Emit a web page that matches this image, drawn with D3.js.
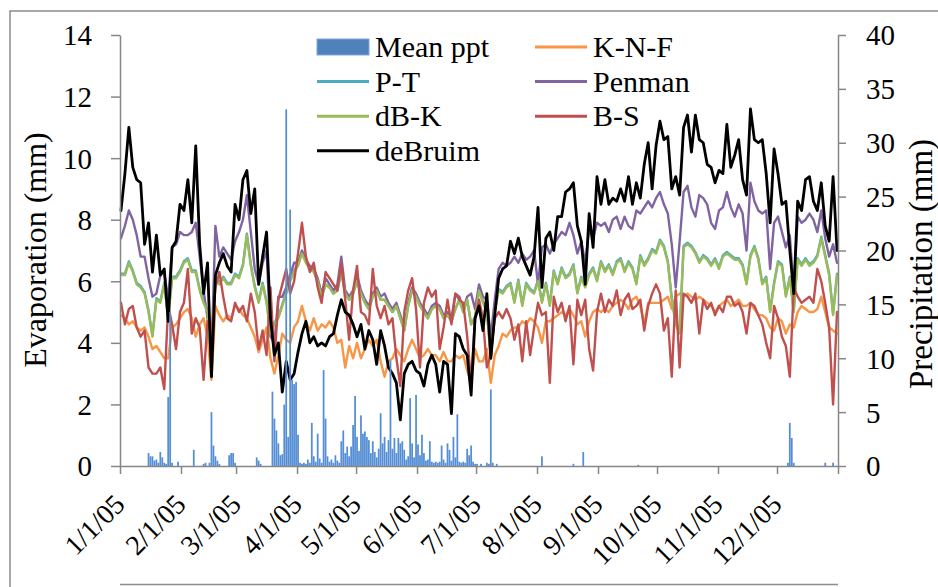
<!DOCTYPE html>
<html><head><meta charset="utf-8">
<script src="https://cdn.jsdelivr.net/npm/d3@7"></script>
<style>
html,body{margin:0;padding:0;background:#fff;}
svg{display:block;}
</style></head><body>
<svg id="chart" width="938" height="587"></svg>
<script>
// ---------- DATA ----------
const monthLabels = ["1/1/05","2/1/05","3/1/05","4/1/05","5/1/05","6/1/05","7/1/05","8/1/05","9/1/05","10/1/05","11/1/05","12/1/05"];
const evapTicks = [0,2,4,6,8,10,12,14];
const precipTicks = [0,5,10,15,20,25,30,35,40];
const seriesNames = ["K-N-F","P-T","Penman","dB-K","B-S","deBruim"];

// values every second day of 2005 (day 0, 2, 4 ... 364)
const knf = [
4.9,4.8,4.6,4.7,4.5,4.4,4.5,4.2,3.8,3.9,
3.7,3.5,3.5,4.5,4.6,4.8,5.0,5.1,4.8,4.2,
4.6,4.8,4.2,2.8,5.2,4.9,4.7,4.9,4.8,5.2,
5.1,4.9,4.8,4.5,4.2,3.7,4.1,4.5,3.5,3.0,
3.6,4.3,4.1,4.0,4.5,4.7,5.2,4.7,4.4,4.8,
4.4,4.6,4.5,4.7,4.5,4.0,4.1,3.2,3.9,3.5,
4.0,3.5,3.8,4.1,3.9,4.1,3.4,2.9,3.4,3.5,
3.8,3.6,3.4,3.8,4.1,3.8,3.5,3.6,3.8,3.6,
3.6,3.4,3.7,3.4,3.4,3.6,3.5,3.6,3.1,2.7,
3.8,3.4,3.4,3.8,2.7,3.6,3.9,4.3,4.2,4.4,
4.5,4.5,4.7,4.6,4.8,4.7,4.5,4.0,4.7,4.7,
4.8,4.9,5.0,4.9,5.1,4.9,4.6,4.7,4.2,4.7,
5.0,5.1,5.0,5.1,5.0,5.2,5.3,5.4,5.3,5.1,
5.4,5.5,5.2,4.6,5.3,5.3,5.3,5.3,5.4,5.5,
5.1,5.5,5.6,5.5,5.6,5.5,5.4,5.5,5.4,5.3,
5.2,5.0,5.2,5.3,5.4,5.2,5.3,5.4,5.2,5.2,
5.3,5.1,4.9,4.9,4.8,4.5,4.4,4.8,4.7,4.3,
4.6,4.5,5.0,5.2,5.1,5.0,5.0,5.1,5.5,5.0,
4.5,4.4,4.3];
const pt = [
6.25,6.25,6.65,6.35,5.95,5.85,5.65,5.05,4.25,5.45,
5.35,5.95,4.85,6.15,6.15,6.35,6.65,6.75,6.35,6.35,
5.75,5.35,5.05,3.45,6.15,5.95,6.15,5.95,5.95,6.25,
6.15,6.55,7.55,6.55,5.85,5.35,5.95,5.35,4.35,4.65,
4.85,5.25,5.65,6.05,6.35,6.55,6.95,6.65,6.45,6.35,
6.0,5.5,5.9,5.8,5.6,5.7,6.3,5.6,5.4,5.6,
6.0,5.6,5.3,5.1,5.5,5.7,5.4,5.4,5.2,5.0,
5.2,4.8,4.4,5.2,5.7,5.5,5.2,5.0,4.8,5.1,
5.2,5.1,4.8,4.9,4.7,5.1,5.4,5.0,5.4,4.6,
4.85,5.75,5.35,5.05,3.55,5.05,5.75,5.65,5.85,5.95,
5.35,6.05,5.25,5.95,5.75,5.65,6.05,5.35,5.95,5.25,
6.35,5.95,6.45,6.15,6.25,6.55,5.65,6.15,5.85,6.25,
6.45,6.05,6.65,6.35,6.55,6.25,6.65,6.75,6.35,6.65,
6.45,5.95,6.85,6.55,6.75,7.05,6.95,7.35,7.15,6.65,
5.45,4.65,4.35,7.15,7.25,7.15,6.95,6.65,6.85,6.75,
6.55,6.75,6.45,6.85,6.95,6.85,6.75,6.75,6.55,5.95,
6.85,7.15,6.75,5.95,6.15,5.05,5.95,6.65,6.55,5.55,
6.15,5.05,6.75,6.55,6.75,6.55,6.65,6.85,7.45,6.85,
6.25,4.95,6.25];
const penman = [
7.4,7.8,8.3,8.0,7.5,6.8,6.8,6.1,5.5,5.6,
6.2,6.3,5.4,7.1,7.2,7.6,7.5,7.5,7.6,7.9,
6.8,5.7,4.8,3.6,7.8,6.8,7.1,6.9,6.7,7.3,
7.6,8.0,8.8,7.6,6.4,5.9,6.6,7.0,4.2,4.0,
5.5,5.5,5.8,6.2,6.6,6.6,7.0,6.7,6.5,6.4,
6.1,5.6,6.1,5.9,5.7,5.9,6.8,5.7,5.5,5.7,
6.2,5.7,5.4,5.2,5.6,5.8,5.5,5.6,5.3,5.1,
5.3,4.9,4.5,5.3,5.8,5.6,5.3,5.1,4.9,5.2,
5.3,5.2,4.9,5.0,4.8,5.6,5.5,5.1,5.5,5.6,
5.1,5.9,5.5,5.4,4.2,5.4,6.4,6.6,6.5,6.6,
6.8,6.6,6.9,6.7,6.8,7.0,5.9,7.1,7.2,6.9,
7.2,7.4,7.6,7.5,7.9,7.5,6.9,7.3,6.6,7.7,
7.4,7.9,7.8,7.9,7.6,8.0,8.1,7.7,8.1,7.8,
7.7,8.3,8.2,8.4,8.6,8.4,8.7,8.9,8.5,8.2,
7.2,5.8,7.3,8.9,9.1,8.4,8.1,8.8,8.7,8.5,
7.9,7.7,8.3,8.4,8.9,8.4,8.1,8.5,8.2,7.0,
9.2,8.6,8.3,8.2,8.3,6.4,7.9,8.1,7.6,7.1,
7.5,5.7,8.1,7.9,8.0,8.2,8.0,7.6,8.3,7.4,
6.8,7.2,6.6];
const dbk = [
6.2,6.2,6.6,6.3,5.9,5.8,5.6,5.0,4.2,5.4,
5.3,5.9,4.8,6.1,6.1,6.3,6.6,6.7,6.3,6.3,
5.7,5.3,5.0,3.4,6.1,5.9,6.1,5.9,5.9,6.2,
6.1,6.5,7.5,6.5,5.8,5.3,5.9,5.3,4.3,4.6,
4.8,5.2,5.6,6.0,6.3,6.5,6.9,6.6,6.4,6.3,
6.0,5.5,5.9,5.8,5.6,5.7,6.3,5.6,5.4,5.6,
6.0,5.6,5.3,5.1,5.5,5.7,5.4,5.4,5.2,5.0,
5.2,4.8,4.4,5.2,5.7,5.5,5.2,5.0,4.8,5.1,
5.2,5.1,4.8,4.9,4.7,5.1,5.4,5.0,5.4,4.6,
4.8,5.7,5.3,5.0,3.5,5.0,5.7,5.6,5.8,5.9,
5.3,6.0,5.2,5.9,5.7,5.6,6.0,5.3,5.9,5.2,
6.3,5.9,6.4,6.1,6.2,6.5,5.6,6.1,5.8,6.2,
6.4,6.0,6.6,6.3,6.5,6.2,6.6,6.7,6.3,6.6,
6.4,5.9,6.8,6.5,6.7,7.0,6.9,7.3,7.1,6.6,
5.4,4.6,4.3,7.1,7.2,7.1,6.9,6.6,6.8,6.7,
6.5,6.7,6.4,6.8,6.9,6.8,6.7,6.7,6.5,5.9,
6.8,7.1,6.7,5.9,6.1,5.0,5.9,6.6,6.5,5.5,
6.1,5.0,6.7,6.5,6.7,6.5,6.6,6.8,7.4,6.8,
6.2,4.9,6.2];
const bs = [
5.3,4.6,5.1,5.2,4.5,4.2,4.4,3.2,3.0,3.0,
3.2,2.5,5.2,4.6,3.8,5.0,5.3,6.4,4.3,4.8,
4.5,2.8,4.7,4.2,5.8,6.3,5.5,4.8,4.7,5.3,
5.0,5.2,4.7,5.6,5.0,3.8,4.4,3.6,5.8,3.4,
5.4,5.9,6.4,5.6,6.0,6.9,7.9,6.8,6.3,6.6,
5.8,5.3,6.3,6.1,5.9,5.7,6.6,5.4,4.1,5.7,
6.5,5.0,4.9,4.6,6.4,5.2,4.8,5.2,4.6,4.8,
3.5,2.6,5.0,5.7,6.1,5.1,3.2,5.3,5.8,5.5,
5.7,3.8,4.5,5.4,4.6,5.6,5.4,5.3,4.2,2.7,
4.8,5.4,4.8,3.2,3.6,4.8,5.0,4.8,5.1,4.8,
4.1,4.6,3.4,4.7,3.6,4.5,5.3,4.9,5.0,2.7,
5.5,5.0,5.3,4.7,5.2,3.3,5.4,4.9,5.4,3.8,
3.1,5.0,5.6,5.0,5.4,5.2,5.7,4.9,5.4,5.6,
5.1,5.2,5.4,4.4,5.2,5.6,5.9,5.6,4.4,4.8,
2.9,5.7,3.2,5.6,5.5,5.3,5.6,4.3,5.4,5.1,
5.3,4.9,5.2,5.0,5.5,5.5,5.2,5.3,5.0,4.3,
5.3,5.2,4.9,4.6,4.0,3.5,5.2,4.8,4.2,3.9,
2.9,5.8,5.5,5.3,5.4,5.5,5.3,6.4,6.0,5.3,
4.5,2.0,5.0];
const debruim = [
8.3,9.5,11.0,9.7,9.3,9.2,7.2,7.9,6.3,7.5,
6.2,6.4,4.7,7.1,7.3,8.5,8.3,9.3,7.9,10.4,
7.2,5.6,6.6,2.9,6.2,6.6,6.9,6.5,6.3,8.5,
8.0,9.3,9.6,8.2,9.0,5.9,6.8,7.6,4.8,3.6,
4.0,2.4,3.4,2.8,3.0,3.7,4.3,4.7,4.0,4.2,
3.9,4.0,3.9,4.2,4.3,4.9,5.4,5.0,4.9,4.6,
4.2,4.6,3.8,4.4,4.1,3.3,4.4,3.9,3.2,3.0,
2.7,1.5,3.0,3.3,3.4,3.1,3.0,2.6,3.3,3.6,
3.3,2.4,3.4,3.3,1.7,4.3,4.2,3.8,3.6,2.3,
4.8,5.2,4.4,5.6,3.5,4.9,6.1,6.4,6.5,7.3,
6.9,7.4,6.8,6.5,6.2,6.8,8.4,5.8,7.4,7.6,
7.0,8.1,8.1,8.9,9.0,9.2,7.8,7.3,5.9,8.2,
7.1,9.4,8.5,9.3,8.5,8.7,8.6,9.0,8.6,9.4,
8.5,9.2,8.7,9.8,10.5,9.0,10.4,11.2,10.6,10.7,
9.0,9.4,8.8,11.0,11.4,10.2,11.4,10.6,10.5,9.8,
9.7,9.2,9.6,9.5,11.1,9.7,10.1,10.6,9.3,8.8,
11.6,10.6,10.5,10.6,9.5,7.9,10.3,9.5,8.5,8.6,
7.0,5.6,8.6,8.3,9.3,9.4,8.6,8.3,9.2,7.8,
7.3,9.4,7.0];

// daily precipitation: day-of-year index and amount (mm); all other days 0
const precipDay = [14,15,16,17,18,19,20,21,22,23,24,25,26,29,37,42,43,45,46,47,48,49,50,55,56,57,58,69,70,71,
77,78,79,80,81,82,83,84,85,86,87,88,89,90,91,92,93,94,95,96,97,98,99,100,101,102,103,104,105,106,
107,108,109,110,111,112,113,114,115,116,117,118,119,120,121,122,123,124,125,126,127,128,129,130,131,132,133,134,135,136,
137,138,139,140,141,142,143,144,145,146,147,148,149,150,151,152,153,154,155,156,157,158,159,160,161,162,163,164,165,166,
167,168,169,170,171,172,173,174,175,176,177,178,179,180,181,183,186,187,188,189,191,214,230,235,263,339,340,341,342,358,362];
const precipMm = [1.2,0.9,0.9,0.5,0.6,0.3,1.3,0.8,0.3,0.2,6.4,14.3,0.3,0.4,1.5,0.2,0.3,0.3,5.0,1.9,0.9,0.5,0.2,1.0,1.2,1.2,0.3,0.8,0.5,0.2,
6.9,4.4,3.3,2.1,1.0,1.1,5.7,33.1,2.7,23.8,8.0,7.6,7.8,2.9,0.3,0.2,0.3,0.2,0.6,0.3,4.0,0.9,0.4,3.0,0.7,0.3,8.9,4.4,0.9,0.4,
0.6,0.3,1.0,0.5,0.3,2.3,3.3,1.2,1.8,0.9,1.8,3.8,6.5,2.7,1.4,4.7,3.0,3.2,2.7,2.4,1.2,2.3,1.3,0.8,1.6,4.9,2.1,2.7,1.3,2.4,
9.8,1.6,2.6,1.2,2.6,2.1,2.3,1.5,0.6,0.9,6.3,2.1,0.8,6.6,2.0,1.0,2.9,1.2,0.5,0.6,2.3,0.4,0.3,0.4,0.3,0.4,1.9,0.6,0.3,2.1,
1.5,0.5,2.7,0.8,4.8,0.4,0.3,0.4,0.3,1.6,1.0,1.9,0.4,0.2,0.2,0.2,0.3,0.2,7.1,0.3,0.2,0.9,0.2,1.3,0.1,0.3,4.0,2.6,0.3,0.3,0.3];

// ---------- CHART ----------
const FONT = '"Liberation Serif","Times New Roman",Times,serif';
const DAY = 864e5;
const t0 = Date.UTC(2005,0,1);
const sampleDays = d3.range(0, 365, 2);
const svg = d3.select("#chart");
const AX = "#868686";

const x = d3.scaleUtc().domain([new Date(t0), new Date(Date.UTC(2006,0,1))]).range([120, 838]);
const yL = d3.scaleLinear().domain([0,14]).range([466, 35]);
const yR = d3.scaleLinear().domain([0,40]).range([466, 35]);
const dayX = d => x(new Date(t0 + d*DAY));

// outer frame
svg.append("path").attr("d","M10,587V11H938").attr("fill","none").attr("stroke","#8c8c8c").attr("stroke-width",1.5);
svg.append("line").attr("x1",120).attr("x2",838).attr("y1",584.5).attr("y2",584.5).attr("stroke","#8c8c8c").attr("stroke-width",1.5);

// lines
const colors = {"K-N-F":"#F79646","P-T":"#4BACC6","Penman":"#8064A2","dB-K":"#9BBB59","B-S":"#C0504D","deBruim":"#000000"};
const seriesData = {"K-N-F":knf,"P-T":pt,"Penman":penman,"dB-K":dbk,"B-S":bs,"deBruim":debruim};
const line = d3.line().x(d => dayX(d[0] + 0.5)).y(d => yL(d[1])).curve(d3.curveLinear);
seriesNames.forEach(name => {
  const pts = sampleDays.map((d,i) => [d, seriesData[name][i]]);
  svg.append("path").datum(pts).attr("d", line).attr("fill","none")
    .attr("stroke", colors[name]).attr("stroke-width", name==="deBruim" ? 2.8 : 2.4)
    .attr("stroke-linejoin","round").attr("stroke-linecap","round");
});

// precipitation bars (secondary axis, drawn on top)
svg.append("g").selectAll("rect").data(precipDay.map((d,i)=>[d,precipMm[i]])).join("rect")
  .attr("x", d => dayX(d[0]) + 0.1)
  .attr("width", d => dayX(d[0]+1) - dayX(d[0]) - 0.2)
  .attr("y", d => yR(d[1]))
  .attr("height", d => yR(0) - yR(d[1]))
  .attr("fill", "#558ED5");

// axes
function styleAxis(g){
  g.attr("font-family", FONT);
  g.select(".domain").attr("stroke", AX).attr("stroke-width", 1.5);
  g.selectAll(".tick line").attr("stroke", AX).attr("stroke-width", 1.5);
  g.selectAll("text").attr("fill","#000").attr("font-family", FONT);
}
const gL = svg.append("g").attr("transform","translate(120,0)")
  .call(d3.axisLeft(yL).tickValues(evapTicks).tickSize(9).tickSizeOuter(0).tickPadding(19).tickFormat(d3.format("d")));
styleAxis(gL); gL.selectAll("text").attr("font-size","29px").attr("dy","0.34em");

const gR = svg.append("g").attr("transform","translate(838,0)")
  .call(d3.axisRight(yR).tickValues(precipTicks).tickSize(8).tickSizeOuter(0).tickPadding(20).tickFormat(d3.format("d")));
styleAxis(gR); gR.selectAll("text").attr("font-size","29px").attr("dy","0.34em");

const xTicks = monthLabels.map((l,i) => new Date(Date.UTC(2005,i,1))).concat([new Date(Date.UTC(2006,0,1))]);
const gX = svg.append("g").attr("transform","translate(0,466)")
  .call(d3.axisBottom(x).tickValues(xTicks).tickSize(8).tickSizeOuter(0).tickFormat((d,i) => monthLabels[i] || ""));
styleAxis(gX);
gX.selectAll("text").attr("x",0).attr("y",0).attr("dy",0)
  .attr("transform","translate(6,40) rotate(-45)").style("text-anchor","end").attr("font-size","28px");

// axis titles
svg.append("text").attr("transform","translate(46,250) rotate(-90)").attr("text-anchor","middle")
  .attr("font-family", FONT).attr("font-size","32px").text("Evaporation (mm)");
svg.append("text").attr("transform","translate(932,264) rotate(-90)").attr("text-anchor","middle")
  .attr("font-family", FONT).attr("font-size","33px").text("Precipitation (mm)");

// legend
const legendItems = ["Mean ppt","K-N-F","P-T","Penman","dB-K","B-S","deBruim"];
const lg = svg.append("g").attr("font-family", FONT);
legendItems.forEach((name,i) => {
  const col = i % 2, row = Math.floor(i / 2);
  const lx = col === 0 ? 317 : 535;
  const cy = 47 + row * 34.6;
  if (name === "Mean ppt") {
    lg.append("rect").attr("x", lx).attr("y", cy - 8).attr("width", 52).attr("height", 16)
      .attr("fill","#4F81BD").attr("stroke","#7ea6d8").attr("stroke-width",1);
  } else {
    lg.append("line").attr("x1", lx).attr("x2", lx + 52).attr("y1", cy).attr("y2", cy)
      .attr("stroke", colors[name]).attr("stroke-width", 3);
  }
  lg.append("text").attr("x", lx + 58).attr("y", cy + 10).attr("font-family", FONT).attr("font-size","30px").text(name);
});
</script></body></html>
